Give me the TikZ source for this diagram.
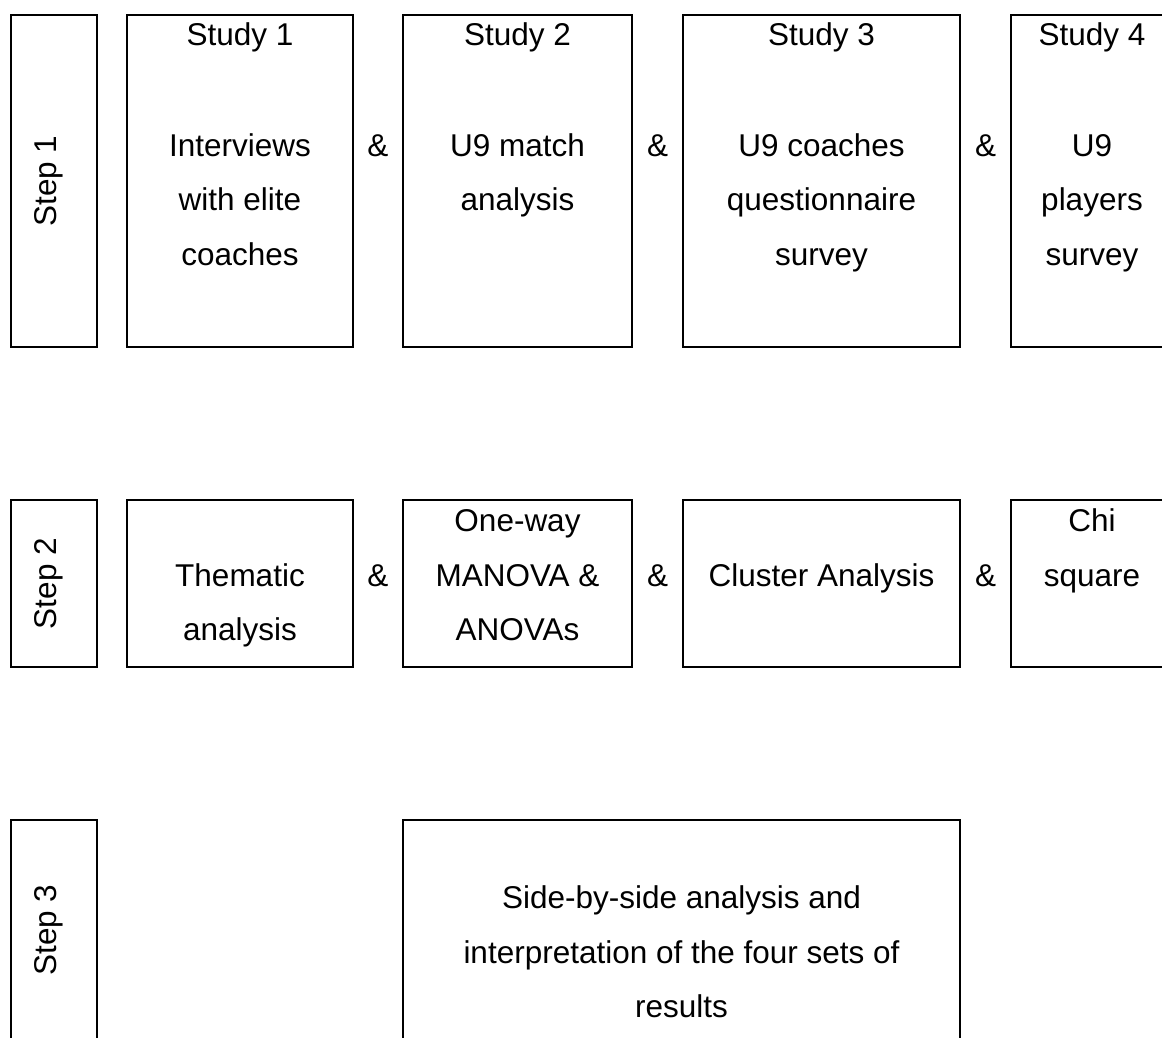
\documentclass[tikz,border=0pt]{standalone}
\usepackage{fontspec}
\setmainfont{Liberation Sans}
\tikzset{
  box/.style={draw, line width=2pt, inner sep=0pt},
  lbl/.style={font=\fontsize{31.5}{54.5}\selectfont, inner sep=0pt, anchor=base},
}
\begin{document}
\begin{tikzpicture}[x=1pt,y=-1pt]
\useasboundingbox (0,0) rectangle (1162,1037);
\clip (0,0) rectangle (1162,1037);
% ---------- Row 1 ----------
\node[box, minimum width=86pt, minimum height=332pt] (step1) at (54,181) {};
\node[box, minimum width=226pt, minimum height=332pt] (s1) at (240,181) {};
\node[box, minimum width=229pt, minimum height=332pt] (s2) at (517.5,181) {};
\node[box, minimum width=277pt, minimum height=332pt] (s3) at (821.5,181) {};
\node[box, minimum width=162pt, minimum height=332pt] (s4) at (1092,181) {};
\node[lbl, rotate=90] (st1) at (56,181) {Step 1};
\node[lbl] (s1a) at (240,45) {Study 1};
\node[lbl] (s1b) at (240,156) {Interviews};
\node[lbl] (s1c) at (240,210.5) {with elite};
\node[lbl] (s1d) at (240,265) {coaches};
\node[lbl] (s2a) at (517.5,45) {Study 2};
\node[lbl] (s2b) at (517.5,156) {U9 match};
\node[lbl] (s2c) at (517.5,210.5) {analysis};
\node[lbl] (s3a) at (821.5,45) {Study 3};
\node[lbl] (s3b) at (821.5,156) {U9 coaches};
\node[lbl] (s3c) at (821.5,210.5) {questionnaire};
\node[lbl] (s3d) at (821.5,265) {survey};
\node[lbl] (s4a) at (1092,45) {Study 4};
\node[lbl] (s4b) at (1092,156) {U9};
\node[lbl] (s4c) at (1092,210.5) {players};
\node[lbl] (s4d) at (1092,265) {survey};
\node[lbl] (a11) at (378,156) {\&};
\node[lbl] (a12) at (657.5,156) {\&};
\node[lbl] (a13) at (985.5,156) {\&};
% ---------- Row 2 ----------
\node[box, minimum width=86pt, minimum height=167pt] (step2) at (54,583.5) {};
\node[box, minimum width=226pt, minimum height=167pt] (m1) at (240,583.5) {};
\node[box, minimum width=229pt, minimum height=167pt] (m2) at (517.5,583.5) {};
\node[box, minimum width=277pt, minimum height=167pt] (m3) at (821.5,583.5) {};
\node[box, minimum width=162pt, minimum height=167pt] (m4) at (1092,583.5) {};
\node[lbl, rotate=90] (st2) at (56,583.5) {Step 2};
\node[lbl] (m1a) at (240,586) {Thematic};
\node[lbl] (m1b) at (240,640.5) {analysis};
\node[lbl] (m2a) at (517.5,531.5) {One-way};
\node[lbl] (m2b) at (517.5,586) {MANOVA \&};
\node[lbl] (m2c) at (517.5,640.5) {ANOVAs};
\node[lbl] (m3a) at (821.5,586) {Cluster Analysis};
\node[lbl] (m4a) at (1092,531.5) {Chi};
\node[lbl] (m4b) at (1092,586) {square};
\node[lbl] (a21) at (378,586) {\&};
\node[lbl] (a22) at (657.5,586) {\&};
\node[lbl] (a23) at (985.5,586) {\&};
% ---------- Row 3 ----------
\node[box, minimum width=86pt, minimum height=220pt] (step3) at (54,930) {};
\node[box, minimum width=557pt, minimum height=220pt] (fin) at (681.5,930) {};
\node[lbl, rotate=90] (st3) at (56,930) {Step 3};
\node[lbl] (fa) at (681.5,908) {Side-by-side analysis and};
\node[lbl] (fb) at (681.5,963) {interpretation of the four sets of};
\node[lbl] (fc) at (681.5,1017) {results};
\end{tikzpicture}
\end{document}
